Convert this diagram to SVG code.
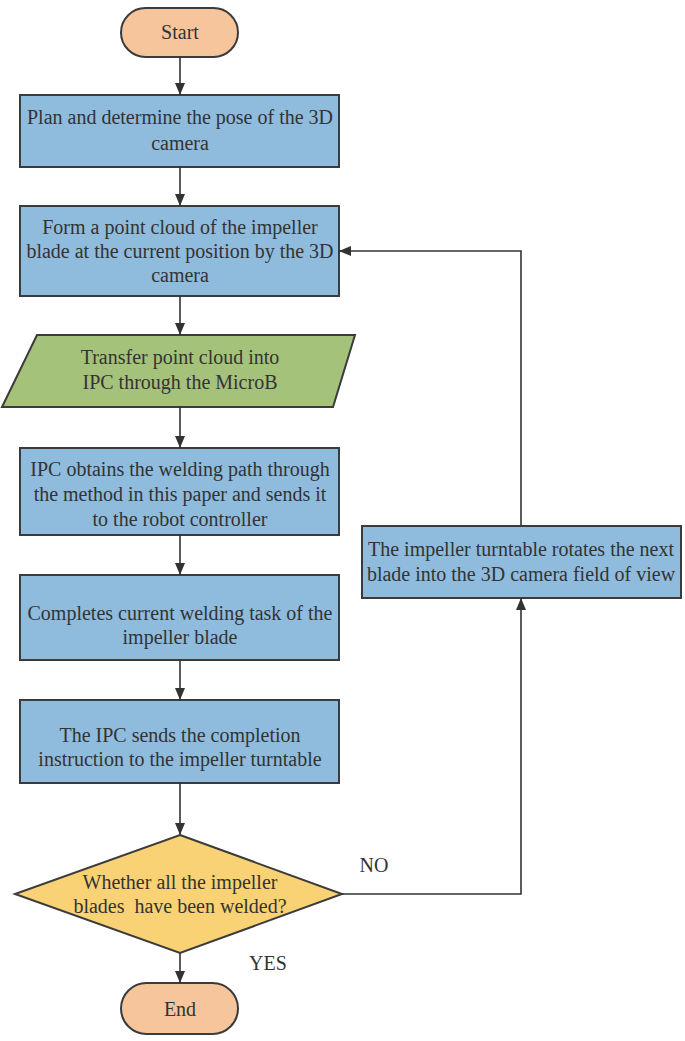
<svg xmlns="http://www.w3.org/2000/svg" width="685" height="1041" viewBox="0 0 685 1041">
<defs>
<marker id="arr" viewBox="0 0 12 10" refX="12" refY="5" markerWidth="12" markerHeight="10" markerUnits="userSpaceOnUse" orient="auto">
<path d="M0,0 L12,5 L0,10 z" fill="#333"/>
</marker>
</defs>
<style>
.box{fill:#8fbbdd;stroke:#3b3b3b;stroke-width:2}
.term{fill:#f6c59b;stroke:#3b3b3b;stroke-width:2}
.io{fill:#a5c27b;stroke:#3b3b3b;stroke-width:2}
.dec{fill:#f8d274;stroke:#3b3b3b;stroke-width:2}
.t{font-size:20px;fill:#333;text-anchor:middle}
.c{fill:none;stroke:#333;stroke-width:1.6;marker-end:url(#arr)}
</style>
<rect width="685" height="1041" fill="#fff"/>
<g font-family="'Liberation Serif', 'DejaVu Serif', serif">
<g id="start">
<rect class="term" x="121" y="8" width="117" height="49" rx="24.5"/>
<text class="t" x="180" y="39">Start</text>
</g>
<g id="plan">
<rect class="box" x="20" y="95" width="319" height="72"/>
<text class="t" x="180" y="124">Plan and determine the pose of the 3D</text>
<text class="t" x="180" y="150">camera</text>
</g>
<g id="form">
<rect class="box" x="20" y="206" width="319" height="90"/>
<text class="t" x="180" y="234">Form a point cloud of the impeller</text>
<text class="t" x="180" y="258">blade at the current position by the 3D</text>
<text class="t" x="180" y="282">camera</text>
</g>
<g id="transfer">
<polygon class="io" points="37,335 355,335 333,407 2,407"/>
<text class="t" x="180" y="364">Transfer point cloud into</text>
<text class="t" x="180" y="389">IPC through the MicroB</text>
</g>
<g id="ipc">
<rect class="box" x="20" y="448" width="319" height="87"/>
<text class="t" x="180" y="476">IPC obtains the welding path through</text>
<text class="t" x="180" y="501">the method in this paper and sends it</text>
<text class="t" x="180" y="526">to the robot controller</text>
</g>
<g id="complete">
<rect class="box" x="20" y="575" width="319" height="85"/>
<text class="t" x="180" y="620">Completes current welding task of the</text>
<text class="t" x="180" y="644">impeller blade</text>
</g>
<g id="send">
<rect class="box" x="20" y="700" width="319" height="83"/>
<text class="t" x="180" y="742">The IPC sends the completion</text>
<text class="t" x="180" y="766">instruction to the impeller turntable</text>
</g>
<g id="decision">
<polygon class="dec" points="180,835 342,894 180,953 15,894"/>
<text class="t" x="180" y="889">Whether all the impeller</text>
<text class="t" x="180" y="913" xml:space="preserve">blades  have been welded?</text>
</g>
<g id="end">
<rect class="term" x="121" y="983" width="117" height="51" rx="25.5"/>
<text class="t" x="180" y="1016">End</text>
</g>
<g id="rotate">
<rect class="box" x="362" y="526" width="319" height="72"/>
<text class="t" x="521" y="556">The impeller turntable rotates the next</text>
<text class="t" x="521" y="581">blade into the 3D camera field of view</text>
</g>
<g id="connectors">
<path class="c" d="M180,57 L180,95"/>
<path class="c" d="M180,167 L180,206"/>
<path class="c" d="M180,296 L180,335"/>
<path class="c" d="M180,407 L180,448"/>
<path class="c" d="M180,535 L180,575"/>
<path class="c" d="M180,660 L180,700"/>
<path class="c" d="M180,783 L180,835"/>
<path class="c" d="M180,953 L180,983"/>
<path class="c" d="M342,894 L521,894 L521,598"/>
<path class="c" d="M521,526 L521,251 L339,251"/>
<text class="t" x="374" y="872">NO</text>
<text class="t" x="268" y="970">YES</text>
</g>
</g>
</svg>
